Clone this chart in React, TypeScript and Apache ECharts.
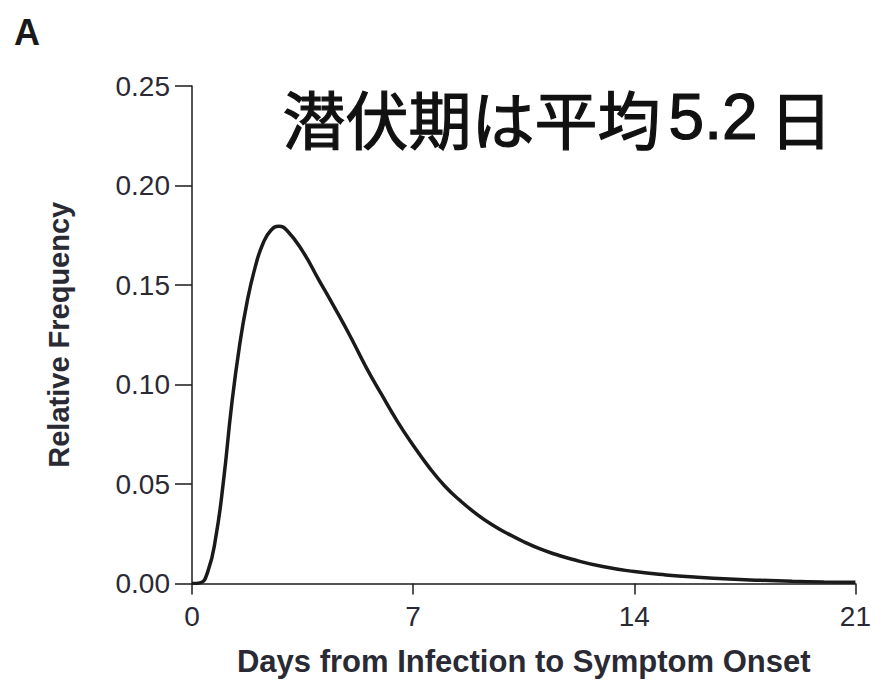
import React, { useEffect, useRef } from "react";
import * as echarts from "echarts";

const days: number[] = [0, 0.25, 0.5, 0.75, 1.0, 1.25, 1.5, 1.75, 2.0, 2.25, 2.5, 2.75, 3.0, 3.5, 4.0, 4.5, 5.0, 5.5, 6.0, 6.5, 7.0, 7.5, 8.0, 8.5, 9.0, 9.5, 10, 10.5, 11, 11.5, 12, 13, 14, 15, 16, 17, 18, 19, 20, 21];
const frequency: number[] = [0, 0.0003, 0.006, 0.023, 0.052, 0.089, 0.119, 0.142, 0.159, 0.171, 0.1775, 0.1795, 0.1775, 0.167, 0.153, 0.139, 0.1245, 0.109, 0.095, 0.0815, 0.0695, 0.0585, 0.049, 0.0415, 0.035, 0.0295, 0.025, 0.021, 0.0175, 0.0147, 0.0123, 0.0085, 0.006, 0.0043, 0.0031, 0.0022, 0.0016, 0.0011, 0.0008, 0.0006];
const xTicks: number[] = [0, 7, 14, 21];
const yTicks: number[] = [0, 0.05, 0.1, 0.15, 0.2, 0.25];
const xTitle = "Days from Infection to Symptom Onset";
const yTitle = "Relative Frequency";
const panelLabel = "A";
const headlineWord = "潜伏期は平均";
const headlineNumber = "5.2";
const headlineUnit = "日";

export default function App() {
  const ref = useRef<HTMLDivElement>(null);
  useEffect(() => {
    if (!ref.current) return;
    const chart = echarts.init(ref.current, null, { renderer: "svg" });
    const labelFont = "'Liberation Sans', Arial, sans-serif";
    const cjkFont = "'Noto Sans CJK JP', sans-serif";
    const textColor = "#2a2a35";
    const headStyle = { fill: "#111111", stroke: "#111111", lineWidth: 1.2 };
    chart.setOption({
      animation: false,
      backgroundColor: "#ffffff",
      grid: { left: 192, top: 86, width: 664, height: 497.5, containLabel: false },
      xAxis: {
        type: "value",
        min: 0,
        max: 21,
        interval: 7,
        splitLine: { show: false },
        axisLine: { lineStyle: { color: "#1a1a1a", width: 1.5 } },
        axisTick: { show: true, length: 11, lineStyle: { color: "#1a1a1a", width: 1.5 }, customValues: xTicks },
        axisLabel: { color: textColor, fontSize: 28, fontFamily: labelFont, margin: 19, customValues: xTicks },
        name: xTitle,
        nameLocation: "middle",
        nameGap: 62,
        nameTextStyle: { color: textColor, fontSize: 31, fontWeight: "bold", fontFamily: labelFont },
      },
      yAxis: {
        type: "value",
        min: 0,
        max: 0.25,
        interval: 0.05,
        splitLine: { show: false },
        axisLine: { show: true, lineStyle: { color: "#1a1a1a", width: 1.5 } },
        axisTick: { show: true, length: 17, lineStyle: { color: "#1a1a1a", width: 1.5 }, customValues: yTicks },
        axisLabel: {
          color: textColor,
          fontSize: 28,
          fontFamily: labelFont,
          margin: 22,
          customValues: yTicks,
          formatter: (v: number) => v.toFixed(2),
        },
        name: yTitle,
        nameLocation: "middle",
        nameRotate: 90,
        nameGap: 119,
        nameTextStyle: { color: textColor, fontSize: 29, fontWeight: "bold", fontFamily: labelFont },
      },
      series: [
        {
          type: "line",
          data: days.map((d, i) => [d, frequency[i]]),
          smooth: 0.5,
          showSymbol: false,
          lineStyle: { color: "#1a1a1a", width: 3.5 },
        },
      ],
      graphic: [
        {
          type: "text",
          left: 14,
          top: 14,
          style: { text: panelLabel, fontSize: 36, fontWeight: "bold", fill: "#1a1a1a", fontFamily: labelFont },
        },
        {
          type: "text",
          left: 282,
          top: 84,
          style: {
            text: `{a|${headlineWord}}{b|${headlineNumber}}{c|${headlineUnit}}`,
            rich: {
              a: { fontSize: 63, fontFamily: cjkFont, ...headStyle },
              b: { fontSize: 64, fontFamily: labelFont, padding: [0, 12, 0, 8], ...headStyle },
              c: { fontSize: 63, fontFamily: cjkFont, ...headStyle },
            },
          },
        },
      ],
    });
    return () => chart.dispose();
  }, []);
  return <div ref={ref} style={{ position: "fixed", left: 0, top: 0, width: 874, height: 683 }} />;
}
